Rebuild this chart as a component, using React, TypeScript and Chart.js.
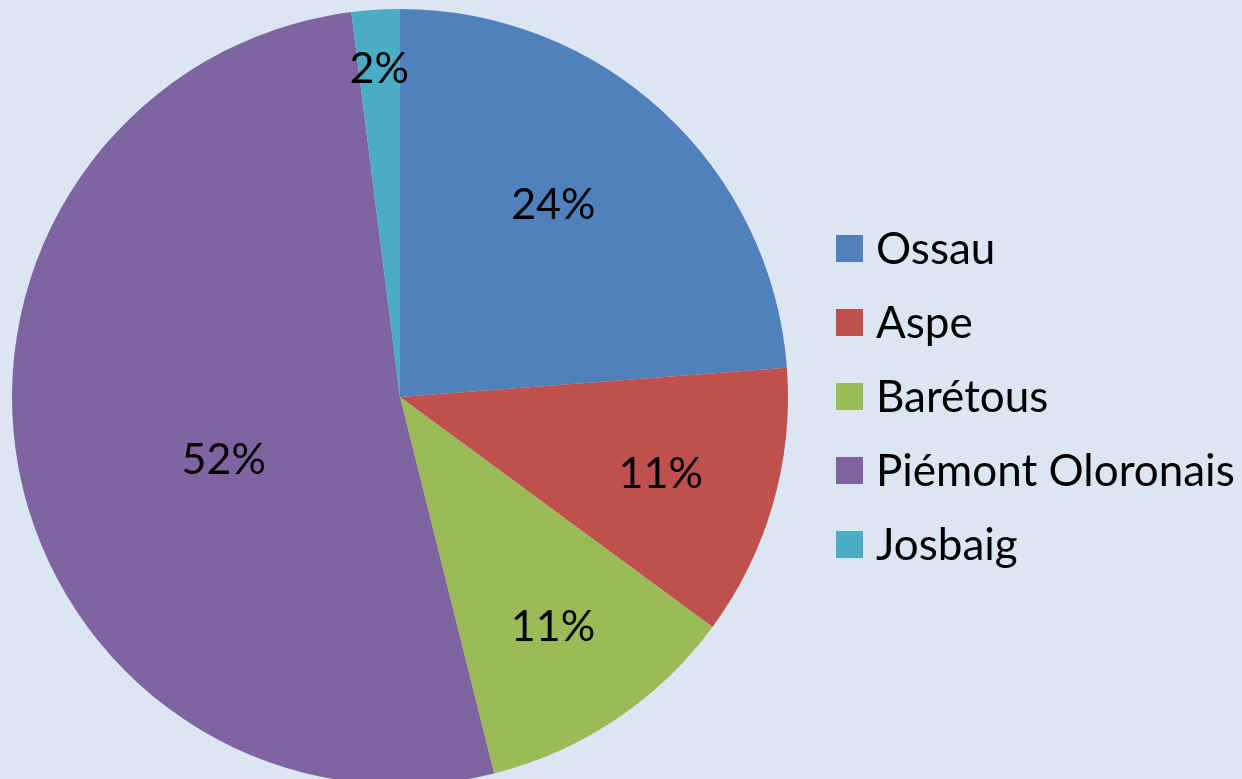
import React, { useEffect, useRef } from "react";
import { Chart, registerables } from "chart.js";

Chart.register(...registerables);

const categories = ["Ossau", "Aspe", "Barétous", "Piémont Oloronais", "Josbaig"];
const shares = [23.8, 11.3, 11.0, 51.9, 2.0];

const colors = ["#4F81BD", "#C0504D", "#9BBB59", "#8064A2", "#4BACC6"];
const BG = "#DCE6F2";
const FONT = "Lato, 'Open Sans', sans-serif";

// label placement style: radial fraction & angular shift (deg)
const labelDist = [0.637, 0.699, 0.708, 0.481, 0.853];
const labelShift = [-4.5, 0, 0, -8.6, 0];

export default function App() {
  const ref = useRef<HTMLCanvasElement | null>(null);

  useEffect(() => {
    document.body.style.margin = "0";
    document.body.style.overflow = "hidden";
    document.body.style.background = BG;
    const canvas = ref.current;
    if (!canvas) return;

    const bgPlugin = {
      id: "bg",
      beforeDraw(chart: any) {
        const { ctx, width, height } = chart;
        ctx.save();
        ctx.fillStyle = BG;
        ctx.fillRect(0, 0, width, height);
        ctx.restore();
      },
    };

    const labelPlugin = {
      id: "sliceLabels",
      afterDatasetsDraw(chart: any) {
        const { ctx } = chart;
        const meta = chart.getDatasetMeta(0);
        const data = chart.data.datasets[0].data as number[];
        const total = data.reduce((a, b) => a + b, 0);
        ctx.save();
        ctx.fillStyle = "#000";
        ctx.font = `43px ${FONT}`;
        ctx.textAlign = "center";
        ctx.textBaseline = "alphabetic";
        meta.data.forEach((arc: any, i: number) => {
          const p = arc.getProps(["x", "y", "startAngle", "endAngle", "outerRadius"], true);
          const mid = (p.startAngle + p.endAngle) / 2 + (labelShift[i] * Math.PI) / 180;
          const d = labelDist[i] * p.outerRadius;
          const x = p.x + Math.cos(mid) * d;
          const y = p.y + Math.sin(mid) * d;
          const txt = Math.round((data[i] / total) * 100) + "%";
          ctx.fillText(txt, x, y + 16);
        });
        ctx.restore();
      },
    };

    const legendPlugin = {
      id: "sideLegend",
      afterDraw(chart: any) {
        const { ctx } = chart;
        ctx.save();
        ctx.font = `44px ${FONT}`;
        ctx.textAlign = "left";
        ctx.textBaseline = "alphabetic";
        const x0 = 836;
        const y0 = 248.5;
        const step = 74;
        chart.data.labels.forEach((lab: string, i: number) => {
          const cy = y0 + i * step;
          ctx.fillStyle = chart.data.datasets[0].backgroundColor[i];
          ctx.fillRect(x0, cy - 13.5, 27, 27);
          ctx.fillStyle = "#000";
          ctx.fillText(lab, 876, cy + 15);
        });
        ctx.restore();
      },
    };

    const chart = new Chart(canvas, {
      type: "pie",
      data: {
        labels: categories,
        datasets: [
          {
            data: shares,
            backgroundColor: colors,
            borderWidth: 0,
          },
        ],
      },
      options: {
        responsive: false,
        maintainAspectRatio: false,
        animation: false,
        layout: { padding: { left: 12, top: 9, right: 454, bottom: 5 } },
        plugins: {
          legend: { display: false },
          tooltip: { enabled: false },
        },
      },
      plugins: [bgPlugin, labelPlugin, legendPlugin],
    });

    return () => chart.destroy();
  }, []);

  return (
    <div style={{ width: 1242, height: 790, background: BG }}>
      <canvas ref={ref} width={1242} height={790} style={{ display: "block" }} />
    </div>
  );
}
